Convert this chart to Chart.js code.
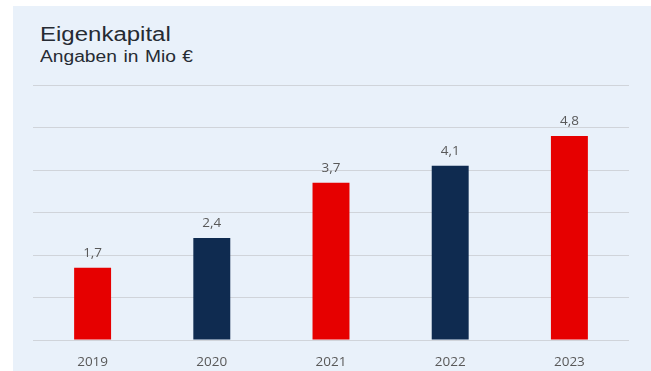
<!DOCTYPE html>
<html>
<head>
<meta charset="utf-8">
<script src="https://cdn.jsdelivr.net/npm/chart.js@4"></script>
<style>
  body { margin: 0; background: #fff; width: 651px; height: 371px; overflow: hidden; position: relative; }
  #panel { position: absolute; left: 13px; top: 6px; right: 0; bottom: 0; background: #e9f1fa; }
  .titel { position: absolute; left: 40px; font-family: "Liberation Sans", Arial, sans-serif; color: #262b33; transform: scaleX(1.2); transform-origin: left top; white-space: nowrap; }
  #titel { top: 24px; font-size: 20px; line-height: 20px; }
  #untertitel { top: 49px; font-size: 16px; line-height: 16px; word-spacing: 1px; }
  #grafico { position: absolute; left: 0; top: 0; }
</style>
</head>
<body>
<div id="panel"></div>
<div class="titel" id="titel">Eigenkapital</div>
<div class="titel" id="untertitel">Angaben in Mio €</div>
<canvas id="grafico" width="651" height="371"></canvas>
<script>
const jahre = ["2019", "2020", "2021", "2022", "2023"];
const eigenkapital = [1.7, 2.4, 3.7, 4.1, 4.8];
const farben = ["#e60000", "#0f2b50", "#e60000", "#0f2b50", "#e60000"];

// Werte über den Balken, mit Komma
const werteOben = {
  id: "werteOben",
  afterDatasetsDraw(chart) {
    const ctx = chart.ctx;
    const meta = chart.getDatasetMeta(0);
    ctx.save();
    ctx.font = "13.5px 'Open Sans'";
    ctx.fillStyle = "#595959";
    ctx.textAlign = "center";
    ctx.textBaseline = "middle";
    meta.data.forEach((bar, i) => {
      const txt = eigenkapital[i].toFixed(1).replace(".", ",");
      ctx.fillText(txt, bar.x, bar.y - 15);
    });
    ctx.restore();
  }
};

const ctx = document.getElementById("grafico").getContext("2d");
const chart = new Chart(ctx, {
  type: "bar",
  data: {
    labels: jahre,
    datasets: [{
      data: eigenkapital,
      backgroundColor: farben,
      barPercentage: 0.31,
      categoryPercentage: 1
    }]
  },
  options: {
    responsive: false,
    animation: false,
    layout: { padding: { left: 33, right: 22, top: 85, bottom: 0 } },
    plugins: { legend: { display: false }, tooltip: { enabled: false } },
    scales: {
      x: {
        grid: { display: false },
        border: { display: false },
        ticks: { color: "#595959", font: { family: "Open Sans", size: 13.5 }, padding: 6 },
        afterFit(scale) { scale.height = 31; }
      },
      y: {
        min: 0,
        max: 6,
        ticks: { display: false, stepSize: 1 },
        border: { display: false },
        grid: { color: "#d0d4da", drawTicks: false }
      }
    }
  },
  plugins: [werteOben]
});
</script>
</body>
</html>
